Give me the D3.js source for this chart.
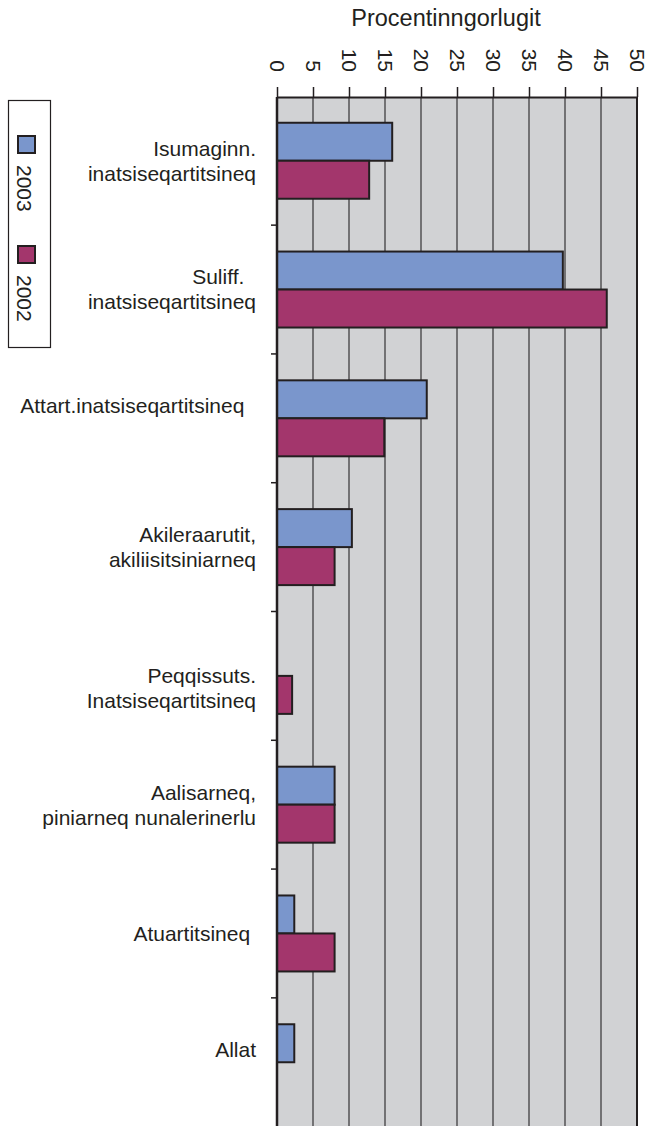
<!DOCTYPE html>
<html>
<head>
<meta charset="utf-8">
<script src="https://cdn.jsdelivr.net/npm/d3@7"></script>
<style>
  body { margin: 0; background: #fff; }
  svg { display: block; font-family: "Liberation Sans", Arial, sans-serif; }
  text { fill: #231f20; white-space: pre; }
</style>
</head>
<body>
<script>
// data
var categories = [
  ["Isumaginn.", "inatsiseqartitsineq"],
  ["Suliff.  ", "inatsiseqartitsineq"],
  ["Attart.inatsiseqartitsineq  ", ""],
  ["Akileraarutit,", "akiliisitsiniarneq"],
  ["", "Peqqissuts.", "Inatsiseqartitsineq"],
  ["Aalisarneq,", "piniarneq nunalerinerlu"],
  ["Atuartitsineq "],
  ["Allat", ""]
]
var seriesNames = ["2003", "2002"]
var values2003 = [16, 39.7, 20.8, 10.4, 0, 8, 2.4, 2.4]
var values2002 = [12.8, 45.8, 14.9, 8.0, 2.1, 8, 8, 0]
var tickValues = [0, 5, 10, 15, 20, 25, 30, 35, 40, 45, 50]
var axisTitle = "Procentinngorlugit"

var colors = {"2003": "#7a96cc", "2002": "#a3366c"}
var width = 649
    height = 1126
var plot = {left: 277, right: 637, top: 97, bottom: 1126}

var svg = d3.select("body")
  .append("svg")
    .attr("width", width)
    .attr("height", height)

var x = d3.scaleLinear().domain([0, 50]).range([plot.left, plot.right])
var y0 = d3.scaleBand()
  .domain(d3.range(categories.length))
  .range([plot.top, plot.bottom])
  .paddingInner(0.41)
  .paddingOuter(0.2)
var y1 = d3.scaleBand().domain(seriesNames).range([0, y0.bandwidth()])

// plot background
svg.append("rect")
  .attr("x", plot.left)
  .attr("y", plot.top)
  .attr("width", plot.right - plot.left)
  .attr("height", plot.bottom - plot.top)
  .attr("fill", "#d1d2d4")

// vertical gridlines
svg.selectAll(".grid")
  .data(tickValues.filter(function(d) { return d > 0 && d < 50 }))
  .enter()
  .append("line")
  .attr("x1", function(d) { return x(d) })
  .attr("x2", function(d) { return x(d) })
  .attr("y1", plot.top)
  .attr("y2", plot.bottom)
  .attr("stroke", "#5b5a5c")
  .attr("stroke-width", 1.6)

// right border
svg.append("line")
  .attr("x1", x(50)).attr("x2", x(50))
  .attr("y1", plot.top).attr("y2", plot.bottom)
  .attr("stroke", "#231f20")
  .attr("stroke-width", 2)

// bars
var rows = []
categories.forEach(function(c, i) {
  rows.push({cat: i, series: "2003", value: values2003[i]})
  rows.push({cat: i, series: "2002", value: values2002[i]})
})
svg.selectAll(".bar")
  .data(rows.filter(function(d) { return d.value > 0 }))
  .enter()
  .append("rect")
  .attr("x", x(0))
  .attr("y", function(d) { return y0(d.cat) + y1(d.series) })
  .attr("width", function(d) { return x(d.value) - x(0) })
  .attr("height", y1.bandwidth())
  .attr("fill", function(d) { return colors[d.series] })
  .attr("stroke", "#231f20")
  .attr("stroke-width", 2)

// top axis
var topAxis = svg.append("g")
  .attr("transform", "translate(0," + plot.top + ")")
  .call(d3.axisTop(x).tickValues(tickValues).tickSize(10).tickSizeOuter(0))
topAxis.select(".domain").attr("stroke", "#231f20").attr("stroke-width", 2)
topAxis.selectAll(".tick line").attr("stroke", "#231f20").attr("stroke-width", 1.5)
topAxis.selectAll(".tick text")
  .attr("transform", "translate(0,-25) rotate(90)")
  .attr("x", 0)
  .attr("y", 0)
  .attr("dy", "0.35em")
  .attr("text-anchor", "end")
  .style("font-size", "21px")
  .style("font-family", "'Liberation Sans', Arial, sans-serif")
  .attr("fill", "#231f20")

svg.append("text")
  .attr("x", 446)
  .attr("y", 26)
  .attr("text-anchor", "middle")
  .style("font-size", "23.5px")
  .text(axisTitle)

// left axis line and ticks between categories
svg.append("line")
  .attr("x1", plot.left).attr("x2", plot.left)
  .attr("y1", plot.top).attr("y2", plot.bottom)
  .attr("stroke", "#231f20")
  .attr("stroke-width", 2.5)
svg.selectAll(".cattick")
  .data(d3.range(1, categories.length))
  .enter()
  .append("line")
  .attr("x1", plot.left - 6)
  .attr("x2", plot.left)
  .attr("y1", function(i) { return y0(i) - y0.step() * y0.paddingInner() / 2 })
  .attr("y2", function(i) { return y0(i) - y0.step() * y0.paddingInner() / 2 })
  .attr("stroke", "#231f20")
  .attr("stroke-width", 1.5)

// category labels
var lineHeight = 25
var labels = svg.selectAll(".catlabel")
  .data(categories)
  .enter()
  .append("text")
  .attr("text-anchor", "end")
  .style("font-size", "21px")
labels.each(function(lines, i) {
  var cy = y0(i) + y0.bandwidth() / 2
  var first = cy - (lines.length - 1) / 2 * lineHeight
  d3.select(this).selectAll("tspan")
    .data(lines)
    .enter()
    .append("tspan")
    .attr("x", 256)
    .attr("y", function(d, j) { return first + j * lineHeight })
    .attr("dy", "0.35em")
    .text(function(d) { return d })
})

// legend
var legend = svg.append("g")
legend.append("rect")
  .attr("x", 8.5).attr("y", 100.5)
  .attr("width", 42).attr("height", 247)
  .attr("fill", "#fff")
  .attr("stroke", "#231f20")
  .attr("stroke-width", 1.2)
var legendItems = legend.selectAll(".item")
  .data(seriesNames)
  .enter()
  .append("g")
  .attr("transform", function(d, i) { return "translate(0," + (i * 110) + ")" })
legendItems.append("rect")
  .attr("x", 18).attr("y", 136)
  .attr("width", 17).attr("height", 17)
  .attr("fill", function(d) { return colors[d] })
  .attr("stroke", "#231f20")
  .attr("stroke-width", 2)
legendItems.append("text")
  .attr("transform", "translate(24,165) rotate(90)")
  .attr("dy", "0.35em")
  .style("font-size", "21px")
  .text(function(d) { return d })
</script>
</body>
</html>
